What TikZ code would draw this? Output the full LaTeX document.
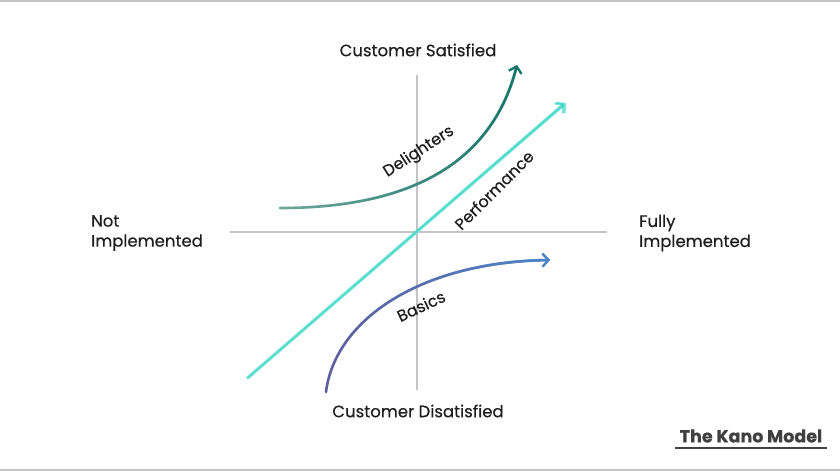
\documentclass[tikz,border=0pt]{standalone}
\usepackage{fontspec}
\setmainfont{Poppins}[FakeBold=0.35]
\newfontfamily\titlefont{Poppins}[FakeBold=0.35]
\usetikzlibrary{arrows.meta,fadings}
\tikzfading[name=fadein, left color=transparent!100, right color=transparent!0]
\definecolor{axisgray}{HTML}{C4C4C4}
\definecolor{txt}{HTML}{1E1E1E}
\definecolor{deltA}{HTML}{6FA89F}
\definecolor{deltB}{HTML}{17776A}
\definecolor{perfA}{HTML}{7FE6D9}
\definecolor{perfB}{HTML}{22D3C0}
\definecolor{basA}{HTML}{5E5E9E}
\definecolor{basB}{HTML}{4A88CC}
\tikzset{
  axis/.style={draw=axisgray, line width=2pt},
  lbl/.style={text=txt, font=\fontsize{16.5}{20}\selectfont, inner sep=0pt},
  curvelbl/.style={text=txt, font=\fontsize{16}{19}\selectfont, inner sep=0pt},
  kcurve/.style={line width=2.6pt, line cap=round, -{Straight Barb[length=6pt,width=13pt,line width=2.2pt]}},
  frame/.style={draw=axisgray, line width=1.5pt}
}
\begin{document}
\begin{tikzpicture}[x=1pt,y=-1pt]
\useasboundingbox (0,0) rectangle (840,471);
\fill[white] (0,0) rectangle (840,471);
\coordinate (tl) at (0,0.8);
\coordinate (tr) at (840,0.8);
\coordinate (bl) at (0,469.8);
\coordinate (br) at (840,469.8);
\draw[frame] (tl) -- (tr);
\draw[frame] (bl) -- (br);
% axes
\coordinate (xl) at (230,232);
\coordinate (xr) at (607,232);
\coordinate (yt) at (417,75);
\coordinate (yb) at (417,390);
\draw[axis] (xl) -- (xr);
\draw[axis] (yt) -- (yb);
% labels
\node[lbl] (sat) at (418,50) {Customer Satisfied};
\node[lbl] (dis) at (418,411) {Customer Disatisfied};
\node[lbl, align=left, anchor=west] (notimp) at (91,233) {Not\\Implemented};
\node[lbl, align=left, anchor=west] (fullimp) at (639,233) {Fully\\Implemented};
% performance
\coordinate (p0) at (248,378);
\coordinate (p1) at (566,103);
\draw[kcurve, draw=perfA] (p0) -- (p1);
\draw[kcurve, draw=perfB, path fading=fadein, fading angle=-40] (p0) -- (p1);
% delighters
\coordinate (d0) at (280,208);
\coordinate (d1) at (517,65);
\draw[kcurve, draw=deltA] (d0) .. controls (400,208) and (490,170) .. (d1);
\draw[kcurve, draw=deltB, path fading=fadein] (d0) .. controls (400,208) and (490,170) .. (d1);
% basics
\coordinate (b0) at (326,392);
\coordinate (b1) at (550,260);
\draw[kcurve, draw=basA] (b0) .. controls (335,320) and (420,262) .. (b1);
\draw[kcurve, draw=basB, path fading=fadein] (b0) .. controls (335,320) and (420,262) .. (b1);
% curve labels
\node[curvelbl, rotate=33] (dl) at (419,152) {Delighters};
\node[curvelbl, rotate=45] (pl) at (494,190) {Performance};
\node[curvelbl, rotate=25] (bl2) at (421,306) {Basics};
% title
\node[text=txt!85, font=\titlefont\fontsize{17.5}{20}\selectfont\bfseries, inner sep=0pt] (title) at (751,436) {The Kano Model};
\coordinate (u0) at (675,448);
\coordinate (u1) at (827,448);
\draw[draw=txt!85, line width=2.2pt] (u0) -- (u1);
\end{tikzpicture}
\end{document}
